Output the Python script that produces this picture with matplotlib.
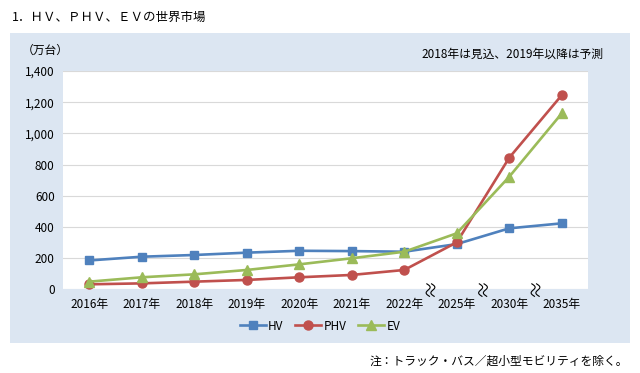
import numpy as np
import matplotlib.pyplot as plt
from matplotlib.patches import Rectangle

plt.rcParams['font.family'] = ['Noto Sans CJK JP', 'DejaVu Sans']

# --- データ ---
years = ["2016年", "2017年", "2018年", "2019年", "2020年", "2021年", "2022年",
         "2025年", "2030年", "2035年"]
hv = [185, 209, 220, 235, 247, 245, 241, 290, 391, 423]
phv = [32, 38, 49, 60, 77, 92, 124, 301, 844, 1245]
ev = [49, 77, 96, 124, 160, 199, 241, 359, 722, 1128]
yticks = [0, 200, 400, 600, 800, 1000, 1200, 1400]

W, H = 640, 373
fig = plt.figure(figsize=(W / 100, H / 100), dpi=100)

# 背景パネル
fig.patches.append(Rectangle((10 / W, 1 - 343 / H), 620 / W, 310 / H,
                             transform=fig.transFigure, facecolor="#dce6f2",
                             edgecolor="none", zorder=-10))

ax = fig.add_axes([63 / W, 1 - 289.3 / H, 525 / W, 218.3 / H])
ax.set_facecolor("white")

x = np.arange(len(years))
ax.plot(x, hv, "-s", color="#4f81bd", lw=1.9, ms=6, label="HV", zorder=3)
ax.plot(x, phv, "-o", color="#c0504d", lw=1.9, ms=6.5, label="PHV", zorder=3)
ax.plot(x, ev, "-^", color="#9bbb59", lw=1.9, ms=6.5, label="EV", zorder=3)

ax.set_xlim(-0.5, len(years) - 0.5)
ax.set_ylim(0, 1400)
ax.set_yticks(yticks)
ax.set_yticklabels([f"{v:,}" for v in yticks], fontsize=8.5)
ax.set_xticks(x)
ax.set_xticklabels(years, fontsize=8.5)
ax.tick_params(length=0, pad=6)
ax.grid(axis="y", color="#d9d9d9", lw=0.8)
ax.set_axisbelow(True)
for s in ax.spines.values():
    s.set_visible(False)

# 省略記号（波線）
t = np.linspace(0, 1, 40)
for xb in [6.5, 7.5, 8.5]:
    for dx in (-0.045, 0.045):
        xs = xb + dx + 0.05 * np.sin(t * 2 * np.pi) + 0.05 * (t - 0.5)
        ys = -5 + 80 * (0.5 - t)
        ax.plot(xs, ys, color="black", lw=0.8, clip_on=False, zorder=4)

fig.text(12 / W, 1 - 17 / H, "1．ＨＶ、ＰＨＶ、ＥＶの世界市場", fontsize=9,
         va="center", ha="left")
fig.text(22 / W, 1 - 50 / H, "（万台）", fontsize=8.5, va="center", ha="left")
fig.text(603 / W, 1 - 54 / H, "2018年は見込、2019年以降は予測", fontsize=8.5,
         va="center", ha="right")
fig.text(628 / W, 1 - 361 / H, "注：トラック・バス／超小型モビリティを除く。",
         fontsize=8.5, va="center", ha="right")

fig.legend(loc="center", bbox_to_anchor=(320 / W, 1 - 326 / H), ncol=3,
           frameon=False, fontsize=8.5, handlelength=2.2, columnspacing=1.0,
           handletextpad=0.2)

fig.savefig("out.png", dpi=100)
